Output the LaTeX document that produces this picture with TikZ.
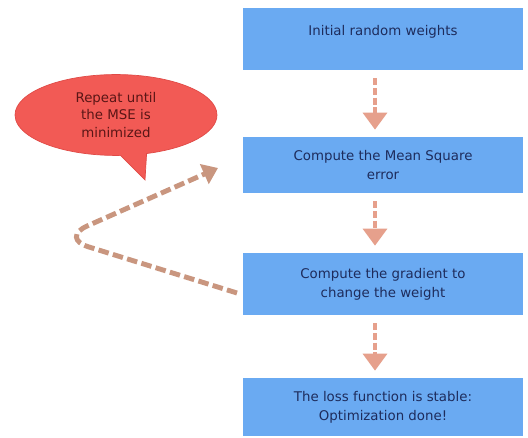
\documentclass[tikz,border=0pt]{standalone}
\usepackage{fontspec}
\setmainfont{DejaVu Sans}
\usetikzlibrary{positioning, shapes.callouts, arrows.meta}
\definecolor{boxblue}{HTML}{6AAAF2}
\definecolor{textnavy}{HTML}{1E2C5C}
\definecolor{arrowpink}{HTML}{E6A08C}
\definecolor{looptan}{HTML}{C9967F}
\definecolor{calloutred}{HTML}{F25A55}
\definecolor{calloutedge}{HTML}{E04A46}
\definecolor{callouttext}{HTML}{5A1616}

\begin{document}
\begin{tikzpicture}[x=0.02cm, y=-0.02cm,
    stepbox/.style={fill=boxblue, draw=none, minimum width=5.6cm, align=center,
      font=\fontsize{7.6}{11}\selectfont, text=textnavy},
    downarrow/.style={draw=arrowpink, line width=2pt, dash pattern=on 4pt off 1.5pt,
      -{Triangle[width=0.48cm, length=0.34cm]}, shorten <=0.16cm, shorten >=0.14cm}]
    \fill[white] (0,0) rectangle (528,438);
    \useasboundingbox (0,0) rectangle (528,438);
    % the four steps
    \node[stepbox, minimum height=1.24cm, text depth=0.36cm] (init) at (383,39) {Initial random weights};
    \node[stepbox, minimum height=1.12cm] (mse) at (383,165) {Compute the Mean Square\\error};
    \node[stepbox, minimum height=1.24cm] (grad) at (383,284) {Compute the gradient to\\change the weight};
    \node[stepbox, minimum height=1.16cm] (done) at (383,407) {The loss function is stable:\\Optimization done!};
    % arrows between steps
    \draw[downarrow] ([xshift=-0.16cm]init.south) -- ([xshift=-0.16cm]mse.north);
    \draw[downarrow] ([xshift=-0.16cm]mse.south) -- ([xshift=-0.16cm]grad.north);
    \draw[downarrow] ([xshift=-0.16cm]grad.south) -- ([xshift=-0.16cm]done.north);
    % loop back
    \coordinate (loopstart) at (237,293);
    \coordinate (loopturn) at (60,238);
    \coordinate (loopend) at (218,168);
    \draw[looptan, line width=2.8pt, dash pattern=on 6pt off 2.5pt, rounded corners=0.6cm,
      -{Triangle[width=0.42cm, length=0.3cm]}] (loopstart) -- (loopturn) -- (loopend);
    % callout
    \node[ellipse callout, fill=calloutred, draw=calloutedge, minimum width=4.04cm,
      minimum height=1.52cm, callout absolute pointer={(145,180)}, align=center,
      text=callouttext, font=\fontsize{7.6}{10}\selectfont] (repeat) at (116,115) {Repeat until\\the MSE is\\minimized};
\end{tikzpicture}
\end{document}
